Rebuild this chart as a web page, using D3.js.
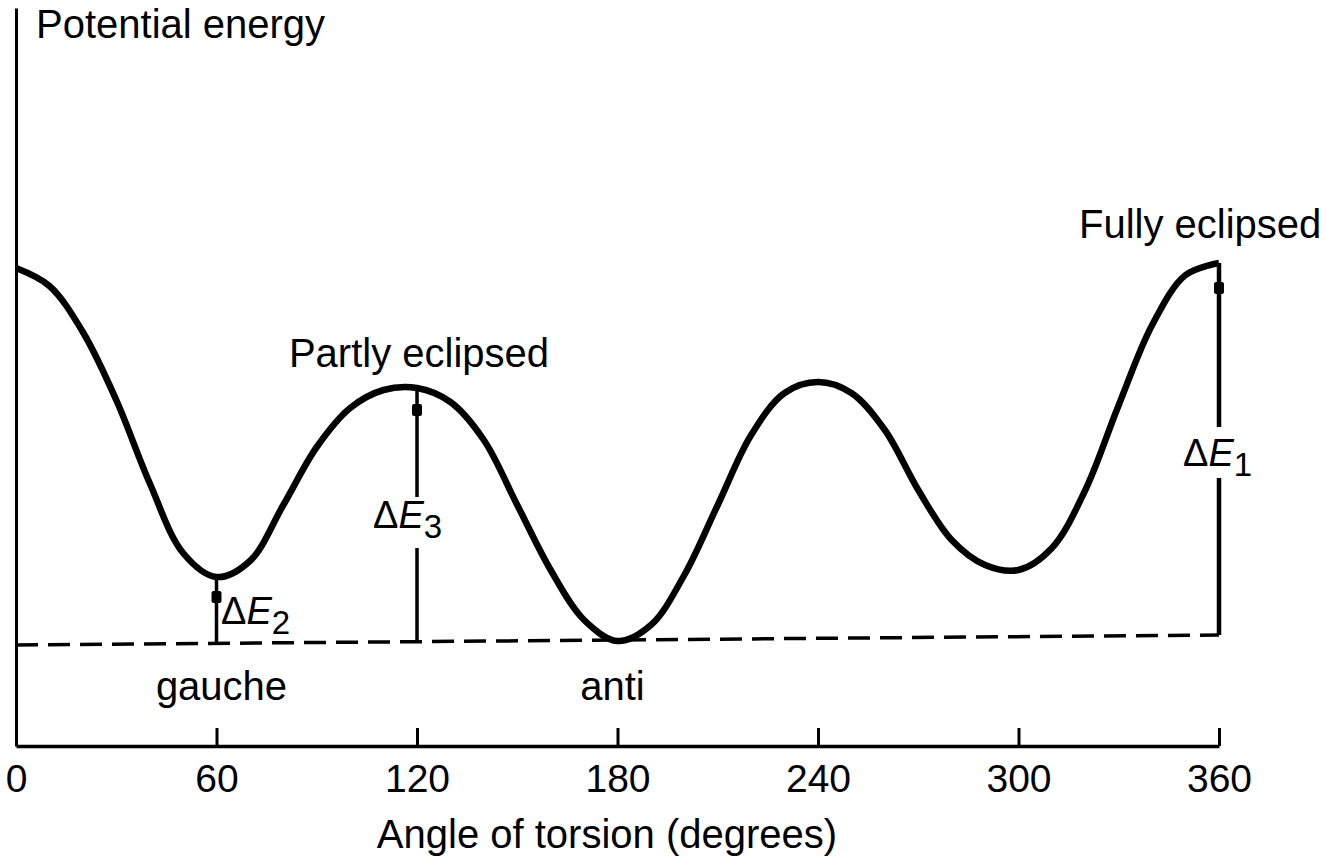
<!DOCTYPE html>
<html><head><meta charset="utf-8">
<script src="https://cdn.jsdelivr.net/npm/d3@7"></script>
<style>
body{margin:0;background:#fff}
text{font-family:"Liberation Sans",Arial,Helvetica,sans-serif;fill:#000}
</style>
</head><body>
<svg id="c" width="1326" height="861"></svg>
<script>
// ---- data ----
const angles = [0,10,20,30,40,50,60,70,80,90,100,110,120,130,140,150,160,170,180,190,200,210,220,230,240,250,260,270,280,290,300,310,320,330,340,350,360];
const energy = [18.65,17.75,15.45,12.05,7.9,4.4,3.2,4.0,6.8,9.7,11.65,12.55,12.65,11.95,10.05,6.8,3.55,1.05,0,0.8,3.3,6.8,10.3,12.4,12.95,12.4,10.55,7.55,5.05,3.8,3.55,4.65,7.55,11.8,15.8,18.3,18.9];
const tickValues = [0,60,120,180,240,300,360];
const tickLabels = ["0","60","120","180","240","300","360"];
const baselineAngles = [0,360];
const baselineEnergy = [-0.2,0.3];
const markerAngles = [60,120,360];
const markerTops = [3.2,12.65,18.9];
const markerDots = [2.2,11.55,17.65];
const markerSubs = ["2","3","1"];
const markerGaps = [null,[4.65,7.2],[8.15,10.7]];
const stateNames = ["gauche","anti","Partly eclipsed","Fully eclipsed"];
const xTitle = "Angle of torsion (degrees)";
const yTitle = "Potential energy";

// ---- scales ----
const svg = d3.select("#c");
const x = d3.scaleLinear().domain([0,360]).range([16,1219]);
const y = d3.scaleLinear().domain([-5.25,31.65]).range([746,8]);
const base = d3.scaleLinear().domain(baselineAngles).range(baselineEnergy);

// axes
const xAxis = d3.axisBottom(x).tickValues(tickValues).tickFormat((d,i)=>tickLabels[i])
  .tickSizeInner(-18).tickSizeOuter(0).tickPadding(18);
const gx = svg.append("g").attr("transform",`translate(0,${y(-5.25)})`).call(xAxis);
gx.select(".domain").attr("stroke","#000").attr("stroke-width",3.5);
gx.selectAll(".tick line").attr("stroke","#000").attr("stroke-width",3);
gx.selectAll(".tick text").attr("font-size",39).attr("font-family","Liberation Sans, Arial, sans-serif").attr("fill","#000");

const yAxis = d3.axisLeft(y).tickValues([]).tickSizeOuter(0);
const gy = svg.append("g").attr("transform",`translate(${x(0)},0)`).call(yAxis);
gy.select(".domain").attr("stroke","#000").attr("stroke-width",3);

// dashed baseline
svg.append("path")
  .datum(baselineAngles.map((a,i)=>[a,baselineEnergy[i]]))
  .attr("d",d3.line().x(d=>x(d[0])).y(d=>y(d[1])))
  .attr("fill","none").attr("stroke","#000").attr("stroke-width",3.5)
  .attr("stroke-dasharray","22,10");

// marker lines
markerAngles.forEach((a,i)=>{
  const top = markerTops[i], bot = base(a);
  const segs = markerGaps[i] ? [[top,markerGaps[i][1]],[markerGaps[i][0],bot]] : [[top,bot]];
  segs.forEach(s=>{
    svg.append("line").attr("x1",x(a)).attr("x2",x(a)).attr("y1",y(s[0])).attr("y2",y(s[1]))
      .attr("stroke","#000").attr("stroke-width",i===2?4.5:3.5);
  });
  svg.append("rect").attr("x",x(a)-5).attr("y",y(markerDots[i])-6).attr("width",10).attr("height",12)
    .attr("rx",2).attr("fill","#000");
});

// curve
svg.append("path")
  .datum(angles.map((a,i)=>[a,energy[i]]))
  .attr("d",d3.line().x(d=>x(d[0])).y(d=>y(d[1])).curve(d3.curveCatmullRom.alpha(0.5)))
  .attr("fill","none").attr("stroke","#000").attr("stroke-width",6.5).attr("stroke-linejoin","round");

// delta labels
const dPos = [[221,624],[373,528],[1183,466]];
markerSubs.forEach((s,i)=>{
  const t = svg.append("text").attr("x",dPos[i][0]).attr("y",dPos[i][1]).attr("font-size",38);
  t.append("tspan").text("Δ");
  t.append("tspan").attr("font-style","italic").text("E");
  t.append("tspan").attr("font-size",33).attr("dy",10).text(s);
});

// state labels
svg.append("text").attr("x",x(60)+5).attr("y",700).attr("text-anchor","middle").attr("font-size",40).text(stateNames[0]);
svg.append("text").attr("x",x(180)-5).attr("y",700).attr("text-anchor","middle").attr("font-size",40).text(stateNames[1]);
svg.append("text").attr("x",419).attr("y",367).attr("text-anchor","middle").attr("font-size",40).text(stateNames[2]);
svg.append("text").attr("x",1079).attr("y",238).attr("font-size",40).text(stateNames[3]);

// titles
svg.append("text").attr("x",607).attr("y",848).attr("text-anchor","middle").attr("font-size",40).text(xTitle);
svg.append("text").attr("x",36).attr("y",38).attr("font-size",40).text(yTitle);
</script>
</body></html>
